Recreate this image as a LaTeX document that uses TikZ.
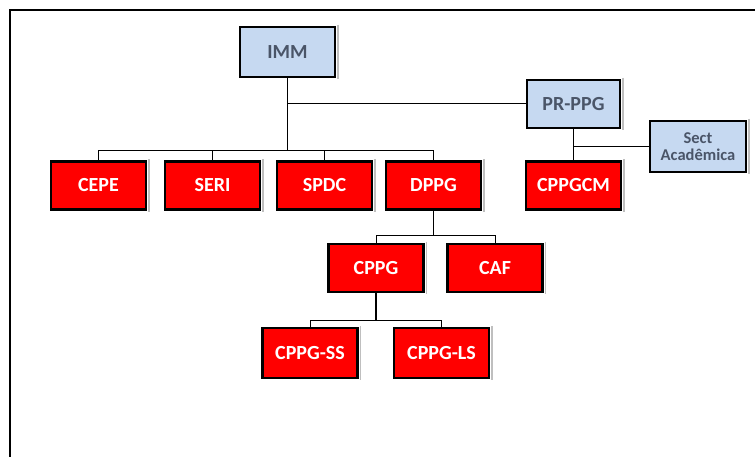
\documentclass[tikz,border=0pt]{standalone}
\usepackage{fontspec}
\setmainfont{Carlito}
\definecolor{boxred}{HTML}{FF0000}
\definecolor{boxblue}{HTML}{C6D9F1}
\definecolor{slate}{HTML}{4A5568}
\tikzset{
  base/.style={rectangle, draw=black, line width=2.5pt, inner sep=0pt, align=center,
    font=\fontsize{20}{21}\selectfont\bfseries},
  redbox/.style={base, fill=boxred, text=white, minimum width=95pt, minimum height=48pt},
  bluebox/.style={base, fill=boxblue, text=slate, minimum width=93pt, minimum height=48pt},
  trunk/.style={line width=1.6pt, black},
  branch/.style={line width=1pt, black},
  edge/.style={gray!50, line width=1.6pt},
  frame/.style={line width=1.5pt, black}
}
\begin{document}
\begin{tikzpicture}[x=1pt,y=-1pt]
\useasboundingbox (0,0) rectangle (755,457);
% frame
\coordinate (fTR) at (756,10);
\coordinate (fTL) at (10,10);
\coordinate (fBL) at (10,458);
\draw[frame] (fTR) -- (fTL) -- (fBL);

% nodes
\node[bluebox, minimum width=95pt, minimum height=50pt] (IMM) at (287.5,52) {IMM};
\node[bluebox] (PR) at (573.5,104) {PR-PPG};
\node[bluebox, minimum width=96pt, minimum height=51pt, font=\fontsize{16.5}{17}\selectfont\bfseries] (SECT) at (698,146.5) {Sect\\Acadêmica};
\node[redbox] (CEPE) at (98.5,185.5) {CEPE};
\node[redbox] (SERI) at (212.5,185.5) {SERI};
\node[redbox] (SPDC) at (324.5,185.5) {SPDC};
\node[redbox] (DPPG) at (433.5,185.5) {DPPG};
\node[redbox] (CPPGCM) at (573.5,185.5) {CPPGCM};
\node[redbox] (CPPG) at (376,268) {CPPG};
\node[redbox] (CAF) at (495,268) {CAF};
\node[redbox, minimum height=50pt] (SS) at (310,353) {CPPG-SS};
\node[redbox, minimum height=50pt] (LS) at (441.5,353) {CPPG-LS};

% right-edge grey strips
\foreach \n in {IMM,PR,SECT,CEPE,SERI,SPDC,DPPG,CPPGCM,CPPG,CAF,SS,LS}{
  \draw[edge] ([xshift=1.7pt,yshift=1pt]\n.north east) -- ([xshift=1.7pt,yshift=-1pt]\n.south east);
}

% connectors
\coordinate (b1) at (287.5,151);
\coordinate (b2) at (433.5,236);
\coordinate (b3) at (376,320);
\draw[trunk] (IMM.south) -- (b1);
\draw[branch] (IMM.south |- PR.west) -- (PR.west);
\draw[branch] (CEPE.north) -- (CEPE.north |- b1) -- (DPPG.north |- b1) -- (DPPG.north);
\draw[branch] (SERI.north) -- (SERI.north |- b1);
\draw[branch] (SPDC.north) -- (SPDC.north |- b1);

\draw[trunk] (PR.south) -- (CPPGCM.north);
\draw[branch] (PR.south |- SECT.west) -- (SECT.west);

\draw[trunk] (DPPG.south) -- (b2);
\draw[branch] (CPPG.north) -- (CPPG.north |- b2) -- (CAF.north |- b2) -- (CAF.north);

\draw[trunk] (CPPG.south) -- (b3);
\draw[branch] (SS.north) -- (SS.north |- b3) -- (LS.north |- b3) -- (LS.north);
\end{tikzpicture}
\end{document}
